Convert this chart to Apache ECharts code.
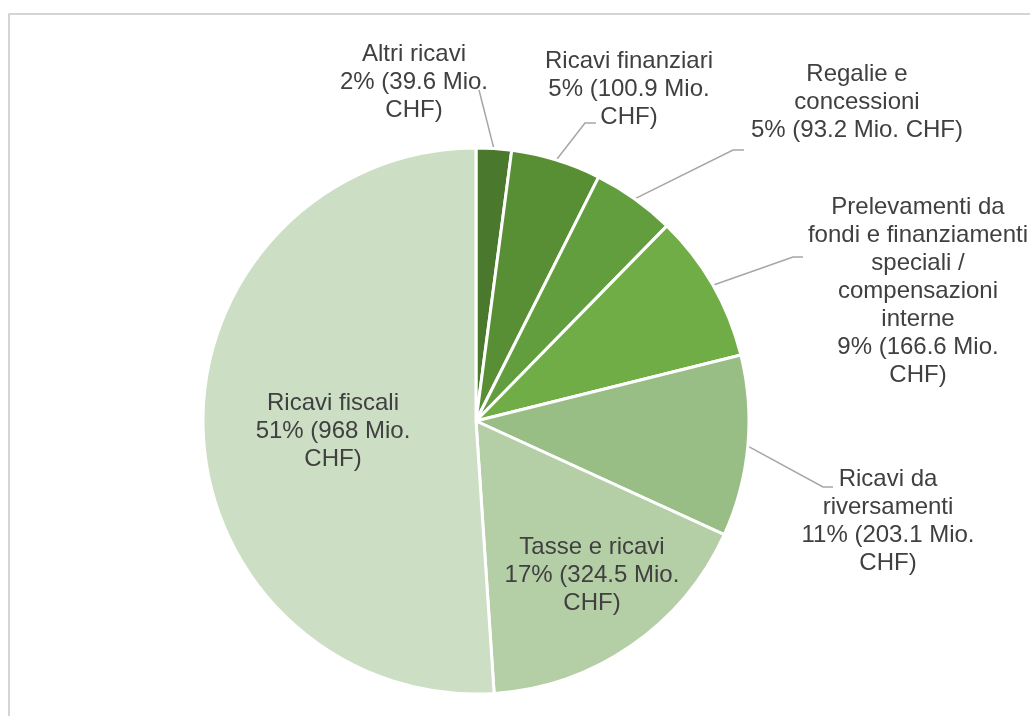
<!DOCTYPE html>
<html>
<head>
<meta charset="utf-8">
<script src="https://cdn.jsdelivr.net/npm/echarts@6/dist/echarts.min.js"></script>
<style>
  html, body { margin: 0; padding: 0; background: #fff; }
  #chart { width: 1030px; height: 716px; }
</style>
</head>
<body>
<div id="chart"></div>
<script>
// dati (Mio. CHF)
const categories = [
  'Altri ricavi',
  'Ricavi finanziari',
  'Regalie e concessioni',
  'Prelevamenti da fondi e finanziamenti speciali / compensazioni interne',
  'Ricavi da riversamenti',
  'Tasse e ricavi',
  'Ricavi fiscali'
]
const values = [39.6, 100.9, 93.2, 166.6, 203.1, 324.5, 968]
const colors = ['#4a782c', '#588f35', '#639e3e', '#70ad47', '#98be85', '#b4cea6', '#ccdec4']

// testo delle etichette, a capo come nell'originale
const nameLines = [
  'Altri ricavi',
  'Ricavi finanziari',
  'Regalie e\nconcessioni',
  'Prelevamenti da\nfondi e finanziamenti\nspeciali /\ncompensazioni\ninterne',
  'Ricavi da\nriversamenti',
  'Tasse e ricavi',
  'Ricavi fiscali'
]
const breakBeforeChf = [true, true, false, true, true, true, true]

// posizione etichette (centro del blocco) e gomito della linea guida
const labelPos = [
  { x: 414, y: 82, elbow: [479, 90], end: [479, 90] },
  { x: 629, y: 89, elbow: [585, 123], end: [596, 123] },
  { x: 857, y: 102, elbow: [733, 150], end: [744, 150] },
  { x: 918, y: 291, elbow: [793, 257], end: [803, 257] },
  { x: 888, y: 521, elbow: [823, 487], end: [833, 487] },
  { x: 592, y: 575 },
  { x: 333, y: 431 }
]

const chart = echarts.init(document.getElementById('chart'))

const data = categories.map((name, i) => ({
  name: name,
  value: values[i],
  itemStyle: { color: colors[i] },
  label: { position: i >= 5 ? 'inside' : 'outside' },
  labelLine: { show: i < 5 }
}))

const option = {
  animation: false,
  graphic: [{
    type: 'rect',
    shape: { x: 9, y: 14, width: 1100, height: 800 },
    style: { fill: 'none', stroke: '#c8c8c8', lineWidth: 1.5 },
    silent: true
  }],
  series: [{
    type: 'pie',
    center: [476, 421],
    radius: 273,
    startAngle: 90,
    clockwise: true,
    itemStyle: { borderColor: '#fff', borderWidth: 3 },
    label: {
      color: '#404040',
      fontFamily: 'Liberation Sans, Arial, sans-serif',
      fontSize: 24,
      lineHeight: 28,
      align: 'center',
      formatter: p => {
        const i = p.dataIndex
        const pct = Math.round(p.percent) + '%'
        const sep = breakBeforeChf[i] ? '\n' : ' '
        return nameLines[i] + '\n' + pct + ' (' + p.value + ' Mio.' + sep + 'CHF)'
      }
    },
    labelLine: {
      lineStyle: { color: '#a6a6a6', width: 1.5 }
    },
    labelLayout: params => {
      const pos = labelPos[params.dataIndex]
      const res = { x: pos.x, y: pos.y, align: 'center', verticalAlign: 'middle' }
      if (pos.elbow && params.labelLinePoints) {
        res.labelLinePoints = [params.labelLinePoints[0], pos.elbow, pos.end]
      }
      return res
    },
    data: data
  }]
}

chart.setOption(option)
</script>
</body>
</html>
